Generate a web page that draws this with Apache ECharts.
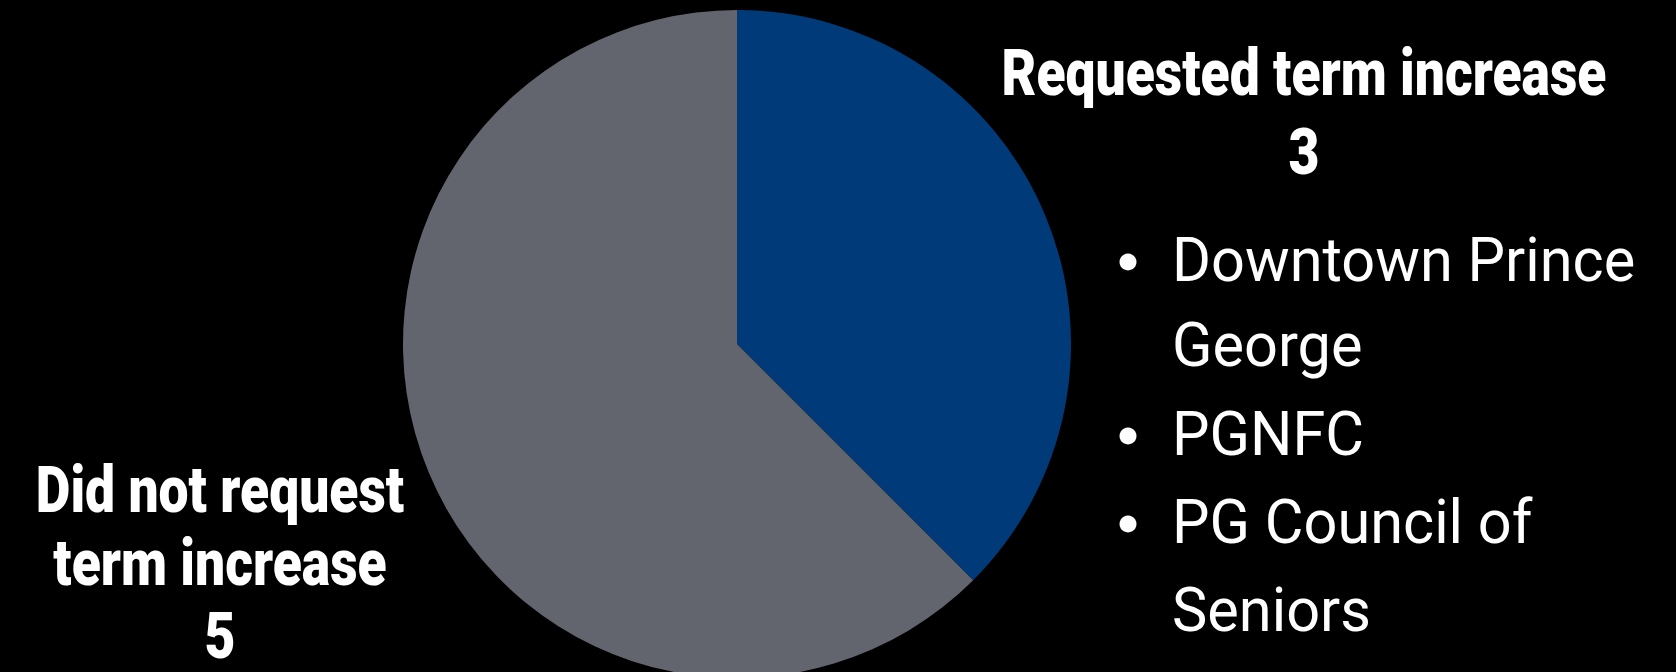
<!DOCTYPE html>
<html>
<head>
<meta charset="utf-8">
<script src="https://cdn.jsdelivr.net/npm/echarts@6/dist/echarts.min.js"></script>
<style>
html,body{margin:0;padding:0;background:#000;}
#chart{width:1676px;height:672px;}
</style>
</head>
<body>
<div id="chart"></div>
<script>
const categories = ['Requested term increase', 'Did not request term increase'];
const values = [3, 5];
const colors = ['#013a79', '#62656e'];
const leftLabelLines = ['Did not request', 'term increase'];
const requestedOrgs = [['Downtown Prince', 'George'], ['PGNFC'], ['PG Council of', 'Seniors']];

const chart = echarts.init(document.getElementById('chart'), null, {renderer: 'svg'});

const boldFont = '900 64px Roboto, "Liberation Sans", sans-serif';
const regFont = '61px Roboto, "Liberation Sans", sans-serif';

const cv = document.createElement('canvas').getContext('2d');
function widthOf(text, font) { cv.font = font; return cv.measureText(text).width; }
// horizontal squeeze to imitate the reference's condensed typeface
const boldScale = 605 / widthOf(categories[0], boldFont);
const regScale = 463 / widthOf(requestedOrgs[0][0], regFont);

const graphics = [];
function addText(t, x, y, font, align, sx) {
  graphics.push({type: 'text', x: x, y: y, scaleX: sx, style: {
    text: t, x: 0, y: 0, fill: '#fff', font: font,
    textAlign: align, textVerticalAlign: 'middle'}});
}
addText(categories[0], 1304, 73, boldFont, 'center', boldScale);
addText(String(values[0]), 1304, 152, boldFont, 'center', boldScale);
leftLabelLines.concat([String(values[1])]).forEach((t, i) => {
  addText(t, 220, 490 + i * 73, boldFont, 'center', boldScale);
});
const lineYs = [260, 345, 434, 522, 610];
let li = 0;
requestedOrgs.forEach(item => {
  item.forEach((line, j) => {
    const y = lineYs[li++];
    if (j === 0) {
      graphics.push({type: 'circle', shape: {cx: 1128, cy: y + 2, r: 8.5}, style: {fill: '#fff'}});
    }
    addText(line, 1172, y, regFont, 'left', regScale);
  });
});

chart.setOption({
  backgroundColor: '#000',
  animation: false,
  graphic: graphics,
  series: [{
    type: 'pie',
    center: [737, 344],
    radius: 334,
    startAngle: 90,
    clockwise: true,
    label: {show: false},
    labelLine: {show: false},
    emphasis: {disabled: true},
    itemStyle: {borderWidth: 0},
    data: categories.map((c, i) => ({name: c, value: values[i], itemStyle: {color: colors[i]}}))
  }]
});
</script>
</body>
</html>
